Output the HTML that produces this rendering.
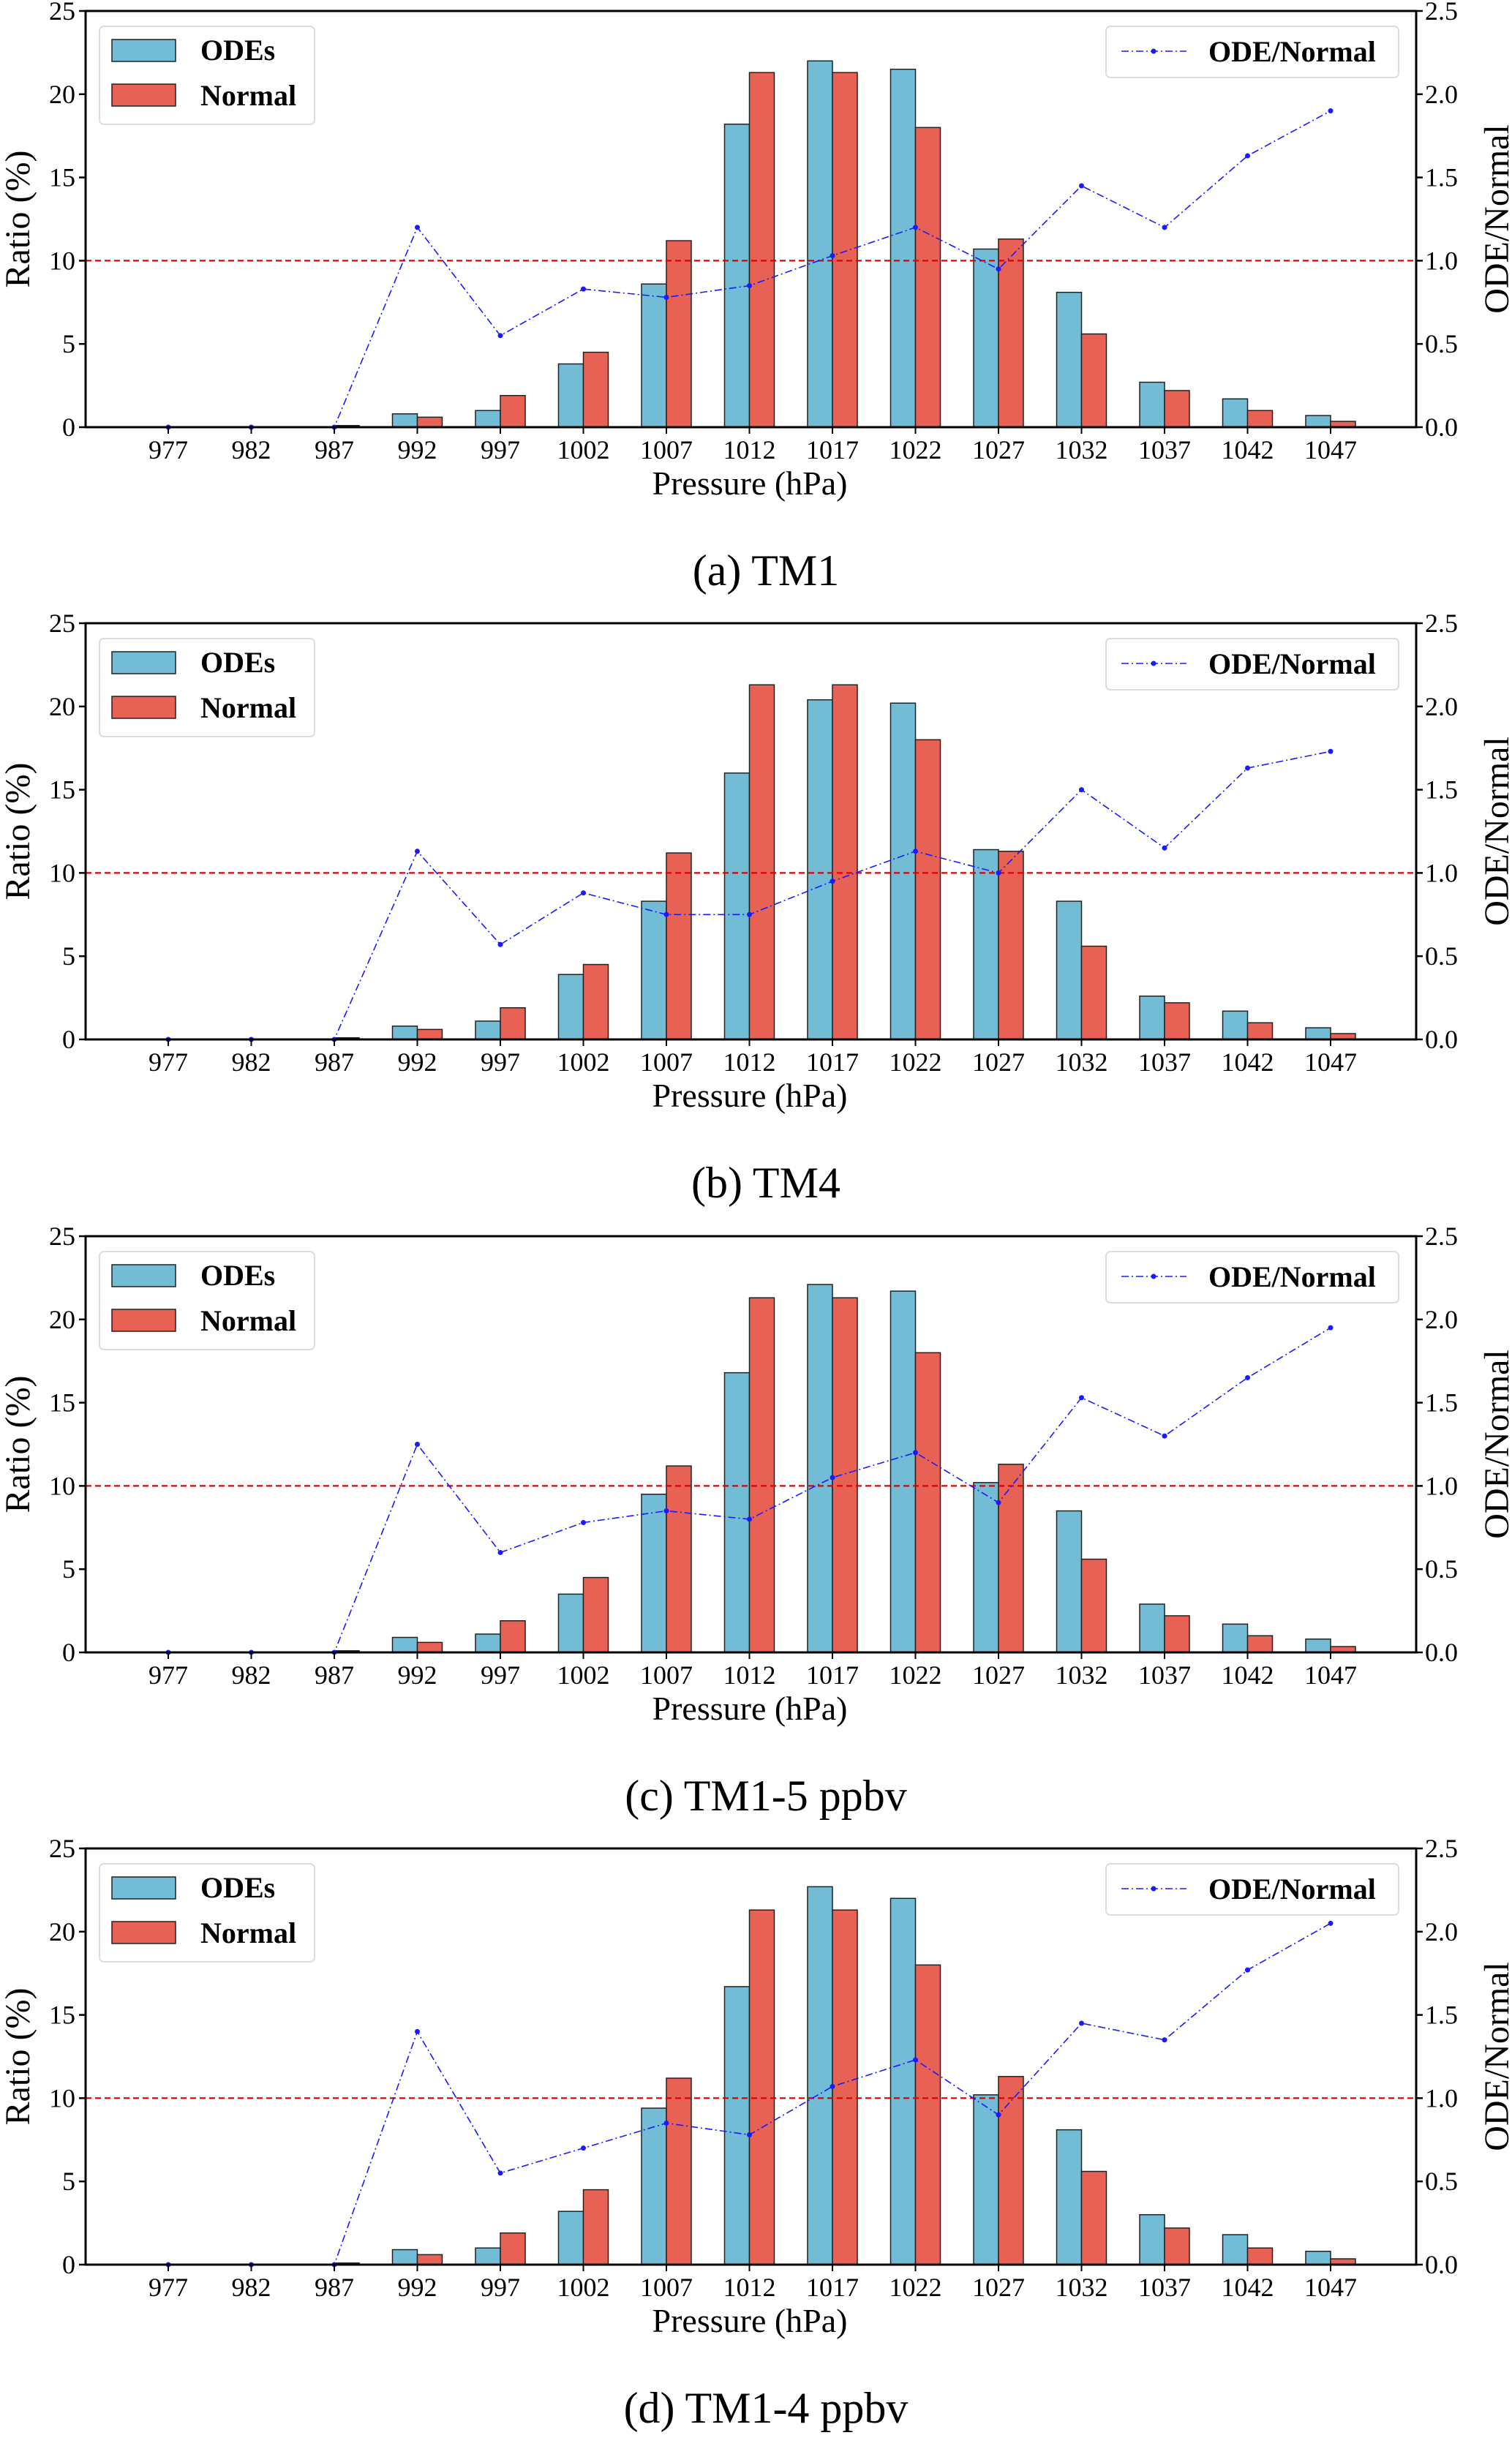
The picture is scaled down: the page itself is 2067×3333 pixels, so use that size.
<!DOCTYPE html>
<html><head><meta charset="utf-8">
<style>
html,body{margin:0;padding:0;background:#fff;}
svg{display:block;font-family:"Liberation Serif",serif;}
</style></head>
<body>
<svg id="fig" width="2067" height="3333" viewBox="0 0 2067 3333" xmlns="http://www.w3.org/2000/svg"></svg>
<script>
const categories = ["977","982","987","992","997","1002","1007","1012","1017","1022","1027","1032","1037","1042","1047"];
const normalValues = [0,0,0.1,0.6,1.9,4.5,11.2,21.3,21.3,18.0,11.3,5.6,2.2,1.0,0.35];
const odesA = [0,0,0,0.8,1.0,3.8,8.6,18.2,22.0,21.5,10.7,8.1,2.7,1.7,0.7];
const odesB = [0,0,0,0.8,1.1,3.9,8.3,16.0,20.4,20.2,11.4,8.3,2.6,1.7,0.7];
const odesC = [0,0,0,0.9,1.1,3.5,9.5,16.8,22.1,21.7,10.2,8.5,2.9,1.7,0.8];
const odesD = [0,0,0,0.9,1.0,3.2,9.4,16.7,22.7,22.0,10.2,8.1,3.0,1.8,0.8];
const ratioA = [0,0,0,1.2,0.55,0.83,0.78,0.85,1.03,1.2,0.95,1.45,1.2,1.63,1.9];
const ratioB = [0,0,0,1.13,0.57,0.88,0.75,0.75,0.95,1.13,1.0,1.5,1.15,1.63,1.73];
const ratioC = [0,0,0,1.25,0.6,0.78,0.85,0.8,1.05,1.2,0.9,1.53,1.3,1.65,1.95];
const ratioD = [0,0,0,1.4,0.55,0.7,0.85,0.78,1.07,1.23,0.9,1.45,1.35,1.77,2.05];
const leftTicks = [0,5,10,15,20,25];
const rightTicks = ["0.0","0.5","1.0","1.5","2.0","2.5"];
const captions = ["(a) TM1","(b) TM4","(c) TM1-5 ppbv","(d) TM1-4 ppbv"];

const panels = [
  {odes:odesA, ratio:ratioA, top:15},
  {odes:odesB, ratio:ratioB, top:852},
  {odes:odesC, ratio:ratioC, top:1690},
  {odes:odesD, ratio:ratioD, top:2527}
];
const NS="http://www.w3.org/2000/svg";
const svg=document.getElementById('fig');
const L=117,R=1936,H=569,X0=230,DX=113.5,BW=34;
function mk(tag,attrs,parent){const e=document.createElementNS(NS,tag);for(const k in attrs)e.setAttribute(k,attrs[k]);(parent||svg).appendChild(e);return e;}
function txt(s,attrs,parent){const e=mk('text',attrs,parent);e.textContent=s;return e;}

panels.forEach((p,pi)=>{
  const g=mk('g',{});
  
  
  const top=p.top, bot=top+H;
  const x=i=>X0+DX*i;
  const y=v=>bot-v/25*H;
  const y2=v=>bot-v/2.5*H;
  categories.forEach((c,i)=>{
    const b1=mk('rect',{x:x(i)-BW,y:y(p.odes[i]),width:BW,height:bot-y(p.odes[i]),fill:'#72bcd5',stroke:'#222','stroke-width':1.5},g);
    
    
    const b2=mk('rect',{x:x(i),y:y(normalValues[i]),width:BW,height:bot-y(normalValues[i]),fill:'#e76254',stroke:'#222','stroke-width':1.5},g);
    
    
  });
  const ref=mk('line',{x1:L,x2:R,y1:y2(1),y2:y2(1),stroke:'#e00000','stroke-width':2.2,'stroke-dasharray':'8,5'},g);
  
  
  const pts=p.ratio.map((v,i)=>x(i)+','+y2(v)).join(' ');
  const ln=mk('polyline',{points:pts,fill:'none',stroke:'#1a1aff','stroke-width':1.6,'stroke-dasharray':'10,4,2,4'},g);
  
  
  p.ratio.forEach((v,i)=>{
    const d=mk('circle',{cx:x(i),cy:y2(v),r:3.5,fill:'#1a1aff'},g);
    
    
  });
  const fr=mk('rect',{x:L,y:top,width:R-L,height:H,fill:'none',stroke:'#000','stroke-width':3},g);
  
  
  leftTicks.forEach(t=>{
    mk('line',{x1:L-9,x2:L,y1:y(t),y2:y(t),stroke:'#000','stroke-width':2.5},g);
    const tl=txt(String(t),{x:L-14,y:y(t)+12,'font-size':36,'text-anchor':'end',fill:'#000'},g);
    
    
  });
  rightTicks.forEach((t,k)=>{
    const yy=y2(k*0.5);
    mk('line',{x1:R,x2:R+9,y1:yy,y2:yy,stroke:'#000','stroke-width':2.5},g);
    const tl=txt(t,{x:R+12,y:yy+12,'font-size':36,fill:'#000'},g);
    
    
  });
  categories.forEach((c,i)=>{
    mk('line',{x1:x(i),x2:x(i),y1:bot,y2:bot+9,stroke:'#000','stroke-width':2},g);
    const tl=txt(c,{x:x(i),y:bot+43,'font-size':36,'text-anchor':'middle',fill:'#000'},g);
    
    
  });
  const xt=txt('Pressure (hPa)',{x:1025,y:bot+92,'font-size':46,'text-anchor':'middle',fill:'#000'},g);
  
  
  const yt=txt('Ratio (%)',{x:0,y:0,'font-size':48,'text-anchor':'middle',fill:'#000',transform:'translate(40,'+(top+H/2)+') rotate(-90)'},g);
  
  
  const y2t=txt('ODE/Normal',{x:0,y:0,'font-size':48,'text-anchor':'middle',fill:'#000',transform:'translate(2062,'+(top+H/2)+') rotate(-90)'},g);
  
  
  const lg=mk('g',{},g);
  
  
  mk('rect',{x:136,y:top+21,width:294,height:134,rx:6,fill:'#fff',stroke:'#ddd','stroke-width':2},lg);
  mk('rect',{x:153,y:top+39,width:87,height:30,fill:'#72bcd5',stroke:'#222','stroke-width':1.5},lg);
  mk('rect',{x:153,y:top+100,width:87,height:30,fill:'#e76254',stroke:'#222','stroke-width':1.5},lg);
  txt('ODEs',{x:274,y:top+67,'font-size':40,'font-weight':'bold',fill:'#000'},lg);
  txt('Normal',{x:274,y:top+129,'font-size':40,'font-weight':'bold',fill:'#000'},lg);
  const rg=mk('g',{},g);
  
  
  mk('rect',{x:1512,y:top+21,width:400,height:70,rx:6,fill:'#fff',stroke:'#ddd','stroke-width':2},rg);
  mk('line',{x1:1533,x2:1622,y1:top+55,y2:top+55,stroke:'#1a1aff','stroke-width':1.6,'stroke-dasharray':'10,4,2,4'},rg);
  mk('circle',{cx:1577,cy:top+55,r:3.5,fill:'#1a1aff'},rg);
  txt('ODE/Normal',{x:1652,y:top+69,'font-size':40,'font-weight':'bold',fill:'#000'},rg);
  const cp=txt(captions[pi],{x:1047,y:bot+216,'font-size':60,'text-anchor':'middle',fill:'#000'},g);
  
  
});
</script>
</body></html>
